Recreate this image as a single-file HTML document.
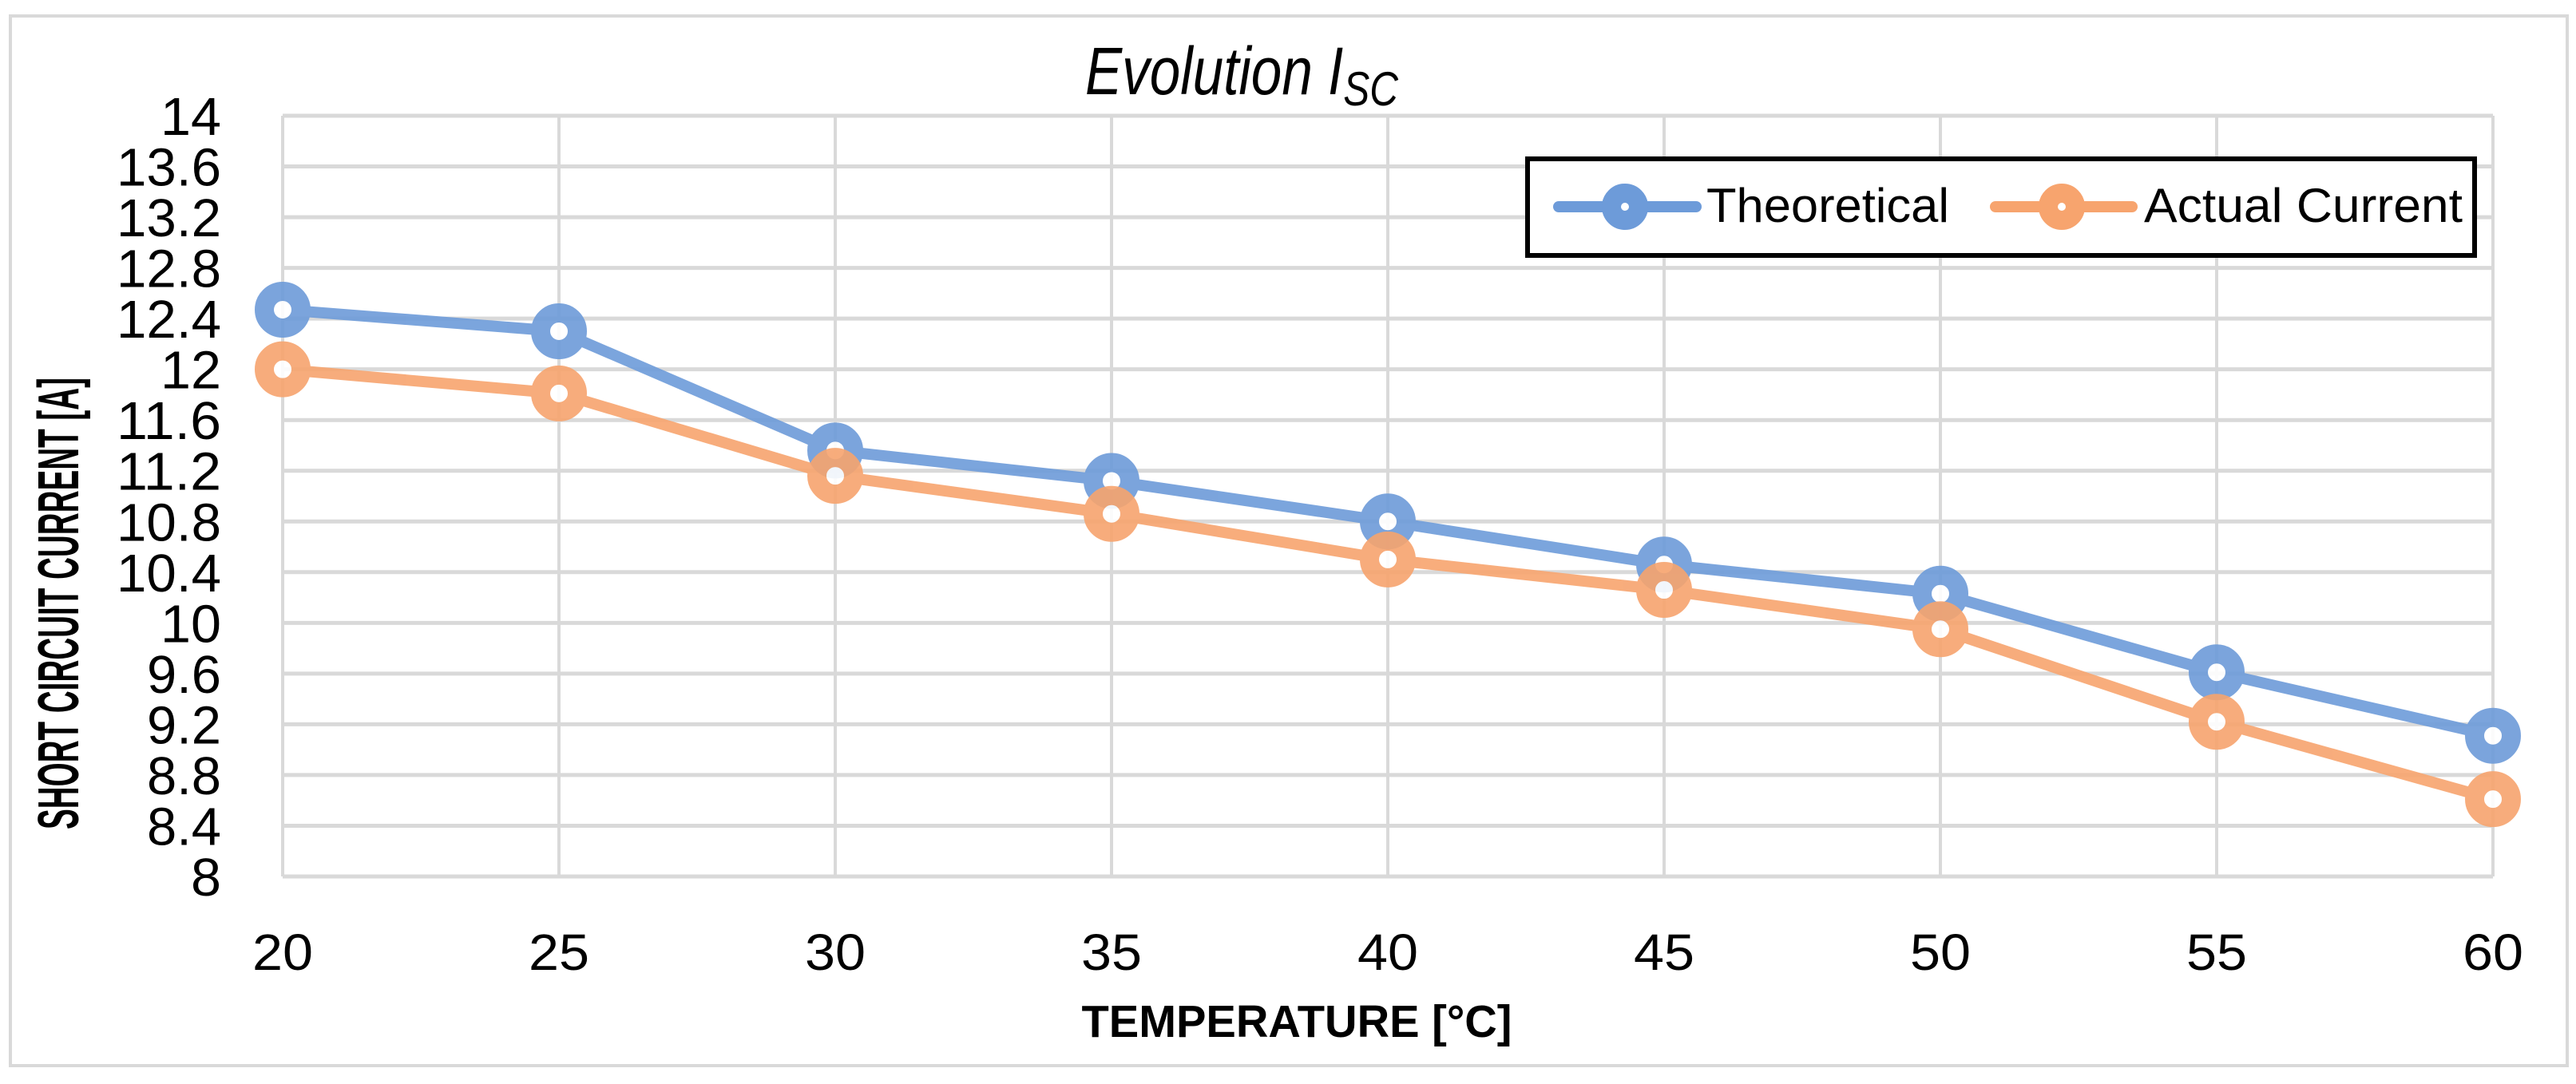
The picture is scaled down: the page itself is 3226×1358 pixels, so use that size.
<!DOCTYPE html>
<html><head><meta charset="utf-8"><style>
html,body{margin:0;padding:0;background:#fff;}
svg{display:block;}
text{font-family:"Liberation Sans Narrow","Liberation Sans",sans-serif;fill:#000;}
</style></head><body>
<svg id="chart" width="3226" height="1358" viewBox="0 0 3226 1358">
<rect x="13" y="20" width="3202" height="1315" fill="#fff" stroke="#d9d9d9" stroke-width="4"/>
<g id="grid"></g>
<g id="ylabels"></g>
<g id="xlabels"></g>
<g id="series"></g>
<text x="1359" y="118" font-size="84" font-style="italic" textLength="392" lengthAdjust="spacingAndGlyphs">Evolution I<tspan font-size="60" dy="14">SC</tspan></text>
<text x="1624" y="1299" font-size="57" font-weight="bold" text-anchor="middle" textLength="539" lengthAdjust="spacingAndGlyphs">TEMPERATURE [°C]</text>
<text transform="translate(98,756) rotate(-90)" font-size="72" font-weight="bold" text-anchor="middle" textLength="566" lengthAdjust="spacingAndGlyphs">SHORT CIRCUIT CURRENT [A]</text>
<g>
<rect x="1913" y="199" width="1186" height="121" fill="#fff" stroke="#000" stroke-width="6"/>
<g>
<line x1="1952" y1="259" x2="2124" y2="259" stroke="#6d9bd9" stroke-width="14" stroke-linecap="round"/>
<circle cx="2035" cy="259" r="17" fill="#fff" stroke="#6d9bd9" stroke-width="24"/>
<text x="2137" y="278" font-size="60" textLength="304" lengthAdjust="spacingAndGlyphs">Theoretical</text>
</g>
<g>
<line x1="2499" y1="259" x2="2670" y2="259" stroke="#f7a46e" stroke-width="14" stroke-linecap="round"/>
<circle cx="2582" cy="259" r="17" fill="#fff" stroke="#f7a46e" stroke-width="24"/>
<text x="2685" y="278" font-size="60" textLength="399" lengthAdjust="spacingAndGlyphs">Actual Current</text>
</g>
</g>
</svg>
<script>
const categories = [20, 25, 30, 35, 40, 45, 50, 55, 60];
const theoretical = [12.47, 12.30, 11.36, 11.12, 10.80, 10.46, 10.23, 9.61, 9.11];
const actualCurrent = [12.00, 11.81, 11.16, 10.86, 10.50, 10.26, 9.95, 9.22, 8.61];
const yTicks = ["8","8.4","8.8","9.2","9.6","10","10.4","10.8","11.2","11.6","12","12.4","12.8","13.2","13.6","14"];

const NS = "http://www.w3.org/2000/svg";
const X0 = 354, X1 = 3122, Y0 = 1098, Y1 = 145;
const xMin = 20, xMax = 60, yMin = 8, yMax = 14;
function xs(v){ return X0 + (v - xMin) / (xMax - xMin) * (X1 - X0); }
function ys(v){ return Y0 - (v - yMin) / (yMax - yMin) * (Y0 - Y1); }
function mk(tag, attrs, parent){ const e = document.createElementNS(NS, tag); for (const k in attrs) e.setAttribute(k, attrs[k]); parent.appendChild(e); return e; }
function lw(s){ let w = 0; for (const c of s) w += (c === '.') ? 17 : 38; return w; }

const grid = document.getElementById('grid');
const yl = document.getElementById('ylabels');
const xl = document.getElementById('xlabels');
const ser = document.getElementById('series');

yTicks.forEach(t => {
  const v = parseFloat(t), y = ys(v);
  const g = mk('line', {x1: X0, x2: X1, y1: y, y2: y, stroke: '#d9d9d9', 'stroke-width': 5}, grid);
  
  
  const tx = mk('text', {x: 277, y: y + 24, 'font-size': 67, 'text-anchor': 'end', textLength: lw(t), lengthAdjust: 'spacingAndGlyphs'}, yl);
  tx.textContent = t;
  
  
});
categories.forEach(c => {
  const x = xs(c);
  const g = mk('line', {x1: x, x2: x, y1: Y1, y2: Y0, stroke: '#d9d9d9', 'stroke-width': 4}, grid);
  
  
  const s = String(c);
  const tx = mk('text', {x: x, y: 1215, 'font-size': 64, 'text-anchor': 'middle', textLength: lw(s), lengthAdjust: 'spacingAndGlyphs'}, xl);
  tx.textContent = s;
  
  
});

function drawSeries(vals, color, name){
  const g = mk('g', {opacity: 0.9}, ser);
  
  
  const pts = vals.map((v, i) => xs(categories[i]) + ',' + ys(v)).join(' ');
  const pl = mk('polyline', {points: pts, fill: 'none', stroke: color, 'stroke-width': 14, 'stroke-linejoin': 'round'}, g);
  
  
  vals.forEach((v, i) => {
    const c = mk('circle', {cx: xs(categories[i]), cy: ys(v), r: 23, fill: '#fff', stroke: color, 'stroke-width': 24}, g);
    
    
  });
}
drawSeries(theoretical, '#6d9bd9', 'theoretical');
drawSeries(actualCurrent, '#f7a46e', 'actual-current');
</script>
</body></html>
